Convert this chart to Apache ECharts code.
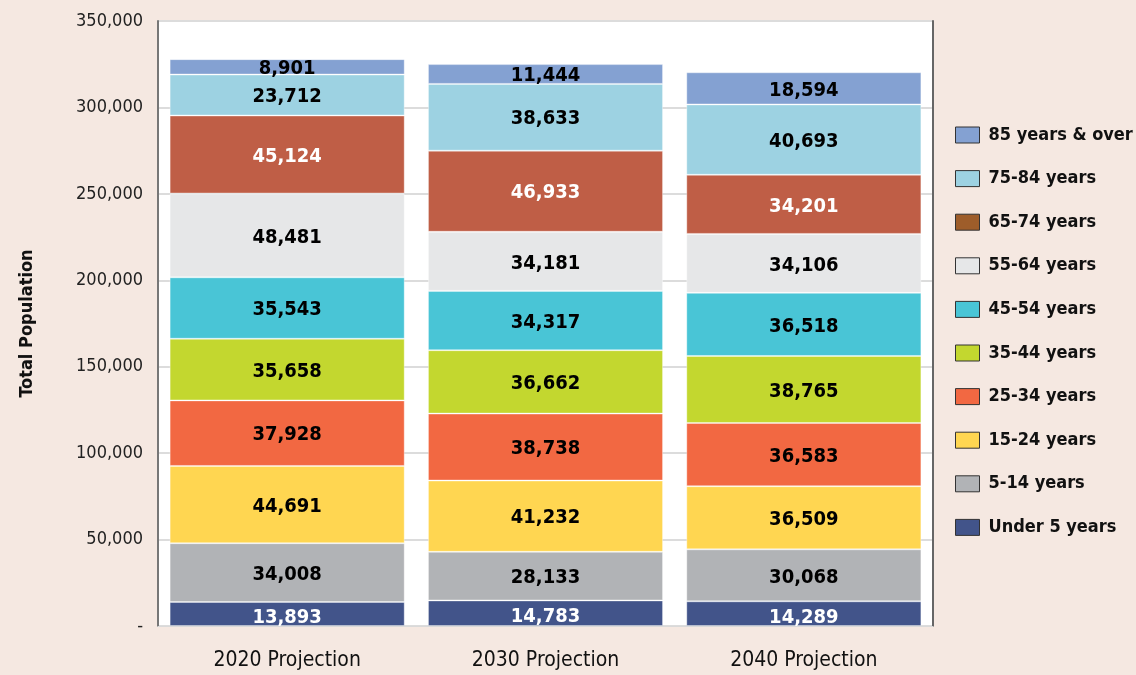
<!DOCTYPE html>
<html>
<head>
<meta charset="utf-8">
<script src="https://cdn.jsdelivr.net/npm/echarts@6/dist/echarts.min.js"></script>
<style>
html,body{margin:0;padding:0;background:#f5e8e1;}
#c{width:1136px;height:675px;}
</style>
</head>
<body>
<div id="c"></div>
<script>
var categories = ['2020 Projection', '2030 Projection', '2040 Projection'];
var seriesNames = ['Under 5 years', '5-14 years', '15-24 years', '25-34 years', '35-44 years', '45-54 years', '55-64 years', '65-74 years', '75-84 years', '85 years & over'];
var under5 = [13893, 14783, 14289];
var age5_14 = [34008, 28133, 30068];
var age15_24 = [44691, 41232, 36509];
var age25_34 = [37928, 38738, 36583];
var age35_44 = [35658, 36662, 38765];
var age45_54 = [35543, 34317, 36518];
var age55_64 = [48481, 34181, 34106];
var age65_74 = [45124, 46933, 34201];
var age75_84 = [23712, 38633, 40693];
var age85plus = [8901, 11444, 18594];
var yTicks = [0, 50000, 100000, 150000, 200000, 250000, 300000, 350000];

var seriesValues = [under5, age5_14, age15_24, age25_34, age35_44, age45_54, age55_64, age65_74, age75_84, age85plus];
var colors = ['#42548a', '#b1b3b6', '#ffd651', '#f26842', '#c3d72f', '#49c5d6', '#e6e7e8', '#bf5e46', '#9dd2e2', '#84a1d2'];
var legendColors = ['#42548a', '#b1b3b6', '#ffd651', '#f26842', '#c3d72f', '#49c5d6', '#e6e7e8', '#9e5d2a', '#9dd2e2', '#84a1d2'];
var labelColors = ['#ffffff', '#000', '#000', '#000', '#000', '#000', '#000', '#ffffff', '#000', '#000'];

var FONT = "'Liberation Sans Narrow', 'DejaVu Sans Condensed', sans-serif";

function fmt(v) { return v.toLocaleString('en-US'); }

var series = seriesNames.map(function (name, i) {
  return {
    name: name,
    type: 'bar',
    stack: 'total',
    barCategoryGap: '9%',
    data: seriesValues[i],
    itemStyle: { color: colors[i], borderColor: 'rgba(255,255,255,0.35)', borderWidth: 1 },
    label: {
      show: true,
      position: 'inside',
      formatter: function (p) { return fmt(p.value); },
      color: labelColors[i],
      fontFamily: FONT,
      fontWeight: 'bold',
      fontSize: 20,
      offset: i === 0 ? [0, 4] : [0, 2]
    },
    emphasis: { disabled: true }
  };
});

var legendData = seriesNames.slice().reverse().map(function (name) {
  var i = seriesNames.indexOf(name);
  return { name: name, icon: 'rect', itemStyle: { color: legendColors[i], borderColor: '#333', borderWidth: 1 } };
});

var chart = echarts.init(document.getElementById('c'), null, { renderer: 'canvas' });
chart.setOption({
  backgroundColor: '#f5e8e1',
  animation: false,
  grid: { left: 158, right: 203, top: 21, bottom: 49, show: true, backgroundColor: '#ffffff', borderColor: '#d9d9d9', borderWidth: 1 },
  legend: {
    orient: 'vertical',
    left: 950,
    top: 120,
    itemWidth: 24,
    itemHeight: 16,
    itemGap: 23.6,
    selectedMode: false,
    data: legendData,
    textStyle: { fontFamily: FONT, fontWeight: 'bold', fontSize: 18, color: '#111', lineHeight: 20, padding: [0, 0, 0, 4] }
  },
  xAxis: {
    type: 'category',
    data: categories,
    axisLine: { show: true, lineStyle: { color: '#d9d9d9', width: 1 } },
    axisTick: { show: false },
    axisLabel: { fontFamily: FONT, fontSize: 21, color: '#111', margin: 24 }
  },
  yAxis: [{
    type: 'value',
    min: 0,
    max: 350000,
    interval: 50000,
    name: 'Total Population',
    nameLocation: 'middle',
    nameGap: 122,
    nameTextStyle: { fontFamily: FONT, fontWeight: 'bold', fontSize: 18, color: '#111' },
    axisLine: { show: true, lineStyle: { color: '#777', width: 2 } },
    axisTick: { show: false },
    splitLine: { lineStyle: { color: '#dcdcdc', width: 2 } },
    axisLabel: {
      fontFamily: FONT, fontSize: 18, color: '#222', margin: 15,
      formatter: function (v) { return v === 0 ? '-' : fmt(v); }
    }
  }, {
    type: 'value',
    min: 0,
    max: 350000,
    interval: 50000,
    position: 'right',
    axisLine: { show: true, lineStyle: { color: '#666', width: 2 } },
    axisTick: { show: false },
    axisLabel: { show: false },
    splitLine: { show: false }
  }],
  series: series,
  graphic: [{
    type: 'rect',
    z: 100,
    shape: { x: 159, y: 627, width: 775, height: 10 },
    style: { fill: '#f5e8e1' }
  }]
});
</script>
</body>
</html>
